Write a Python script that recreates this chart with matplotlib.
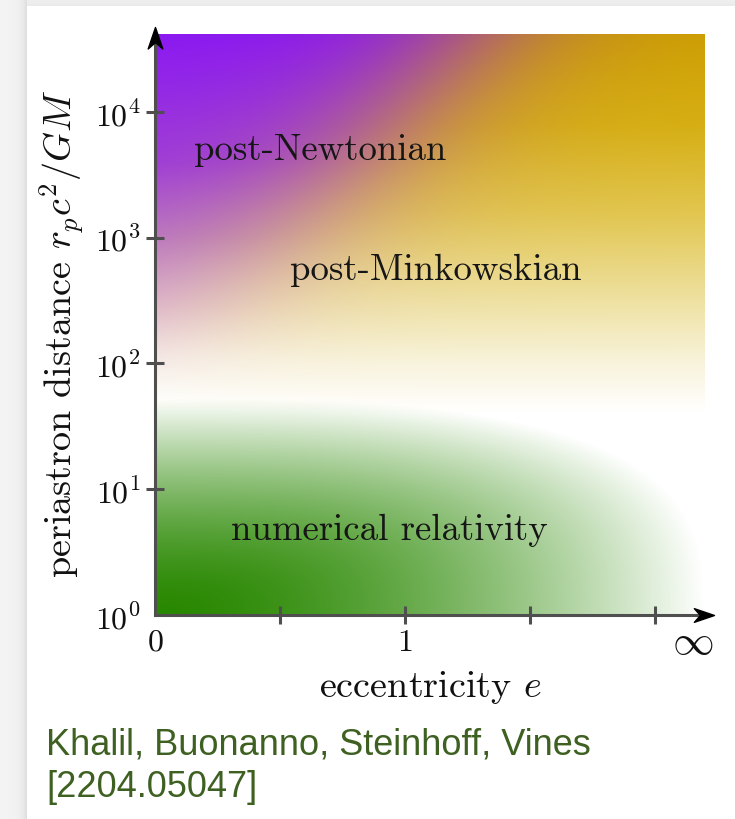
import numpy as np
import matplotlib
matplotlib.use("Agg")
import matplotlib.pyplot as plt
from matplotlib.path import Path
from matplotlib.ticker import NullLocator

W, H, DPI = 735, 820, 100

# ---- axis ranges and tick labels --------------------------------------
e_axis_max = 2.2          # horizontal axis units: 1 <-> e = 1, right end <-> e -> infinity
logr_max = 4.62           # top of the shaded domain in log10(r_p c^2 / GM)
x_tick_pos = [0.0, 0.5, 1.0, 1.5, 2.0, 2.15]
x_tick_labels = [r'$0$', '', r'$1$', '', '', r'$\infty$']
y_tick_pos = [1e0, 1e1, 1e2, 1e3, 1e4]
y_tick_labels = [r'$10^{0}$', r'$10^{1}$', r'$10^{2}$', r'$10^{3}$', r'$10^{4}$']

# ---- regime labels ------------------------------------------------------
region_names = ['post-Newtonian', 'post-Minkowskian', 'numerical relativity']
region_e = [0.66, 1.124, 0.936]
region_r = [10**3.70, 10**2.75, 10**0.68]

# ---- regime colours ------------------------------------------------------
# post-Newtonian column (log10 r -> RGB)
pn_logr = [1.72, 2.05, 2.45, 3.00, 3.60, 4.62]
pn_rgb = [(255, 255, 255), (242, 224, 236), (218, 172, 210),
          (184, 112, 198), (158, 58, 218), (138, 24, 242)]
# post-Minkowskian column (log10 r -> RGB)
pm_logr = [1.60, 2.00, 2.55, 3.20, 3.90, 4.62]
pm_rgb = [(255, 255, 255), (248, 243, 220), (237, 223, 155),
          (225, 197, 78), (214, 175, 18), (206, 160, 0)]
# numerical relativity
nr_rgb = (40, 135, 0)

# PN / PM divide: log10 r = base + slope * e_axis
pn_pm_base, pn_pm_slope, pn_pm_width = 1.8, 2.25, 0.24
# NR region: super-ellipse around the origin
nr_extent_e, nr_extent_logr, nr_shape = 2.2, 1.72, 3.0

plt.rcParams['mathtext.fontset'] = 'cm'
plt.rcParams['font.family'] = ['cmr10', 'DejaVu Serif']
plt.rcParams['axes.unicode_minus'] = False

fig = plt.figure(figsize=(W / DPI, H / DPI), dpi=DPI)
fig.patch.set_facecolor('white')

# page card with a soft shadow along the top and left edges
yy, xx = np.mgrid[0:H, 0:W].astype(float)
card_x, card_y = 27.0, 7.0
bg = np.ones((H, W))
left = xx < card_x
top = yy < card_y
bg[left] = 0.955 - 0.10 * np.exp(-(card_x - xx[left]) / 5.0)
bg[top & ~left] = 0.94 - 0.03 * np.exp(-(card_y - yy[top & ~left]) / 3.0)
fig.figimage(np.dstack([bg] * 3), xo=0, yo=0, origin='upper', zorder=-10)

ax = fig.add_axes([155 / W, 1 - 616 / H, 550 / W, 581 / H])

# ---- shaded regimes ------------------------------------------------------
ue = np.linspace(0, e_axis_max, 551)
le = np.linspace(0, logr_max, 582)
uc = 0.5 * (ue[1:] + ue[:-1])
lc = 0.5 * (le[1:] + le[:-1])
U, L = np.meshgrid(uc, lc)


def column(levels, rgb):
    rgb = np.asarray(rgb, float) / 255.0
    return np.stack([np.interp(L, levels, rgb[:, k]) for k in range(3)], axis=-1)


pn = column(pn_logr, pn_rgb)
pm = column(pm_logr, pm_rgb)
t = 1.0 / (1.0 + np.exp(-(U - (L - pn_pm_base) / pn_pm_slope) / pn_pm_width))
upper = pn * (1 - t[..., None]) + pm * t[..., None]

rho = ((U / nr_extent_e) ** nr_shape + (L / nr_extent_logr) ** nr_shape) ** (1 / nr_shape)
g = np.clip(1 - rho ** 1.6, 0, 1)
green = np.asarray(nr_rgb, float) / 255.0
lower = 1 - g[..., None] * (1 - green)

rgb = np.clip(upper * lower, 0, 1)
ax.pcolormesh(ue, 10 ** le, rgb, shading='flat', rasterized=True, antialiased=False)

ax.set_xlim(0, e_axis_max)
ax.set_yscale('log')
ax.set_ylim(1, 10 ** logr_max)

# ---- axes styling --------------------------------------------------------
axis_col = '#4f4f4f'
for side in ('top', 'right'):
    ax.spines[side].set_visible(False)
for side in ('left', 'bottom'):
    ax.spines[side].set_color(axis_col)
    ax.spines[side].set_linewidth(2.2)
    ax.spines[side].set_zorder(5)

ax.set_xticks(x_tick_pos, x_tick_labels)
ax.set_yticks(y_tick_pos, y_tick_labels)
ax.yaxis.set_minor_locator(NullLocator())
ax.xaxis.set_minor_locator(NullLocator())
ax.tick_params(direction='inout', length=13, width=2.2, color=axis_col,
               labelsize=23, labelcolor='#111111')
ax.tick_params(axis='x', pad=3)
ax.tick_params(axis='y', pad=4)
xt = ax.xaxis.get_major_ticks()
xt[0].tick1line.set_visible(False)
xt[-1].tick1line.set_visible(False)
xt[-1].label1.set_fontsize(30)
xt[-1].set_pad(0)
ax.yaxis.get_major_ticks()[0].tick1line.set_visible(False)

ax.set_xlabel(r'eccentricity $e$', fontsize=27.5, labelpad=5, color='#111111')
ax.set_ylabel(r'periastron distance $r_p c^2/GM$', fontsize=27.5, color='#111111')
ax.yaxis.set_label_coords(-0.125, 0.485)

# arrow heads at the ends of both axes
up_head = Path([(0, 0), (0.34, -1), (0, -0.7), (-0.34, -1), (0, 0)],
               [Path.MOVETO, Path.LINETO, Path.LINETO, Path.LINETO, Path.CLOSEPOLY])
right_head = Path([(0, 0), (-1, 0.34), (-0.7, 0), (-1, -0.34), (0, 0)],
                  [Path.MOVETO, Path.LINETO, Path.LINETO, Path.LINETO, Path.CLOSEPOLY])
ax.plot([0], [1.012], marker=up_head, markersize=31, color='black',
        transform=ax.transAxes, clip_on=False, zorder=6)
ax.plot([1.0164], [0], marker=right_head, markersize=29, color='black',
        transform=ax.transAxes, clip_on=False, zorder=6)

# regime names
for name, xe, yr in zip(region_names, region_e, region_r):
    ax.text(xe, yr, name, ha='center', va='center', fontsize=26.5, color='#161616')

# citation under the figure
cite_col = '#3e6122'
fig.text(46 / W, 1 - 755 / H, 'Khalil, Buonanno, Steinhoff, Vines',
         family=['Liberation Sans', 'DejaVu Sans'], fontsize=26, color=cite_col,
         ha='left', va='baseline')
fig.text(46 / W, 1 - 797 / H, '[2204.05047]',
         family=['Liberation Sans', 'DejaVu Sans'], fontsize=26, color=cite_col,
         ha='left', va='baseline')

fig.savefig('out.png', dpi=DPI)
